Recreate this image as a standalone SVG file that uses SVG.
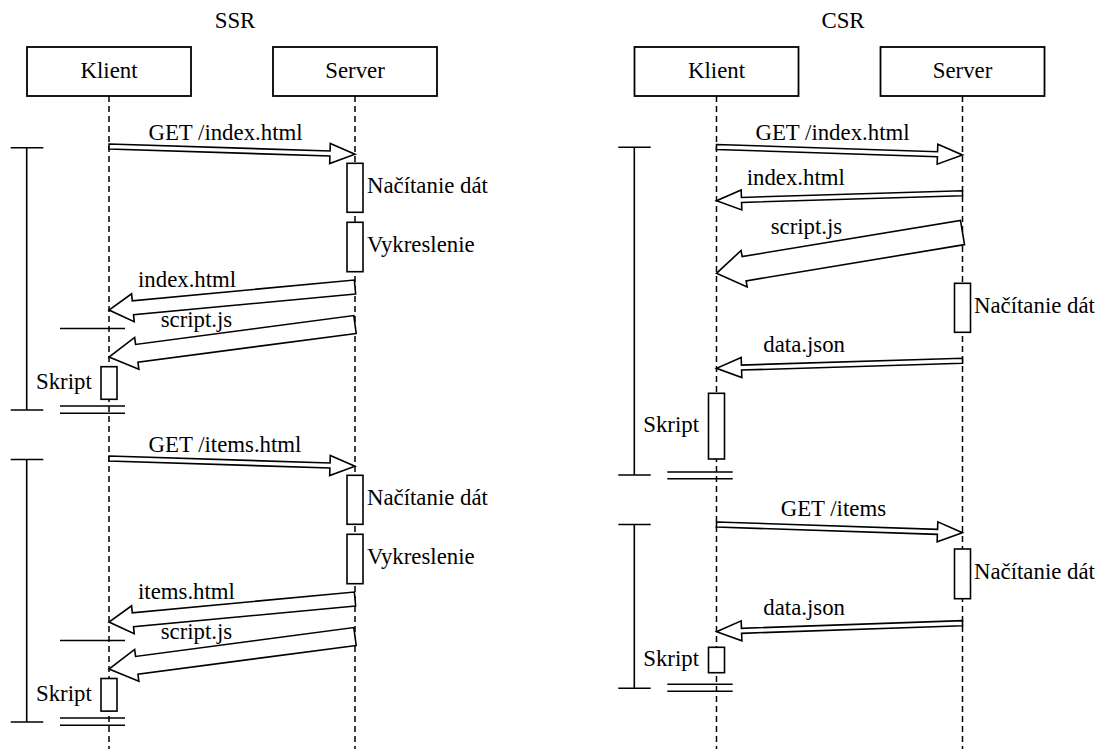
<svg xmlns="http://www.w3.org/2000/svg" xmlns:xlink="http://www.w3.org/1999/xlink" width="1105" height="749" viewBox="0 0 1105 749" font-family="'Liberation Serif', 'Times New Roman', Times, serif" font-size="22.8">
<style>
  text { font-family: 'Liberation Serif', 'Times New Roman', Times, serif; font-size: 22.8px; fill: #000; }
  .mid { text-anchor: middle; }
  .box { fill: #fff; stroke: #000; stroke-width: 1.8; }
  .life { stroke: #000; stroke-width: 1.5; stroke-dasharray: 6 4; fill: none; }
  .act { fill: #fff; stroke: #000; stroke-width: 1.6; }
  .arr { fill: #fff; stroke: #000; stroke-width: 1.6; stroke-linejoin: miter; }
  .ln { stroke: #000; stroke-width: 1.6; fill: none; }
</style>
<defs>
  <polygon id="thin" class="arr" points="0,-2.5 221.1,-2.5 221.1,-10 246.1,0 221.1,10 221.1,2.5 0,2.5"/>
  <polygon id="bigA" class="arr" points="0,-7 223.07,-7 223.07,-14 247.07,0 223.07,14 223.07,7 0,7"/>
  <polygon id="bigB" class="arr" points="0,-9 220.14,-9 220.14,-16 248.14,0 220.14,16 220.14,9 0,9"/>
  <polygon id="bigC" class="arr" points="0,-12.3 221.36,-12.3 221.36,-18.5 249.36,0 221.36,18.5 221.36,12.3 0,12.3"/>
</defs>
<rect width="1105" height="749" fill="#fff"/>

<!-- titles -->
<text class="mid" x="235" y="28">SSR</text>
<text class="mid" x="843" y="28">CSR</text>

<!-- lifelines -->
<g id="lifelines">
  <line class="life" x1="109" y1="96" x2="109" y2="749"/>
  <line class="life" x1="355" y1="96" x2="355" y2="749"/>
  <line class="life" x1="716.5" y1="96" x2="716.5" y2="749"/>
  <line class="life" x1="962.5" y1="96" x2="962.5" y2="749"/>
</g>

<!-- participants -->
<g id="ssr-klient"><rect class="box" x="27" y="47" width="164" height="49"/><text class="mid" x="109" y="77.5">Klient</text></g>
<g id="ssr-server"><rect class="box" x="273" y="47" width="164" height="49"/><text class="mid" x="355" y="77.5">Server</text></g>
<g id="csr-klient"><rect class="box" x="634.5" y="47" width="164" height="49"/><text class="mid" x="716.5" y="77.5">Klient</text></g>
<g id="csr-server"><rect class="box" x="880.5" y="47" width="164" height="49"/><text class="mid" x="962.5" y="77.5">Server</text></g>

<!-- brackets and separators -->
<g id="frames">
  <path class="ln" d="M10.7,147.7 H43.3 M26.7,147.7 V410 M10.7,410 H43.3"/>
  <path class="ln" d="M10.7,459.5 H43.3 M26.7,459.5 V722 M10.7,722 H43.3"/>
  <path class="ln" d="M618.3,147.3 H650.7 M634.3,147.3 V475 M618.3,475 H650.7"/>
  <path class="ln" d="M618.3,524.5 H650.7 M634.3,524.5 V688.3 M618.3,688.3 H650.7"/>
  <path class="ln" d="M60,328.5 H125 M60,640.5 H125"/>
  <path class="ln" d="M60,406 H125 M60,413.3 H125"/>
  <path class="ln" d="M60,718 H125 M60,725.3 H125"/>
  <path class="ln" d="M667.3,472 H732.7 M667.3,478.7 H732.7"/>
  <path class="ln" d="M667.3,684.3 H732.7 M667.3,691.3 H732.7"/>
</g>

<!-- activations -->
<g id="ssr-load1"><rect class="act" x="347" y="163.3" width="16" height="49"/><text x="367" y="193">Načítanie dát</text></g>
<g id="ssr-render1"><rect class="act" x="347" y="222.3" width="16" height="49.4"/><text x="367" y="252">Vykreslenie</text></g>
<g id="ssr-script1"><rect class="act" x="101" y="366.7" width="16" height="32.6"/><text x="36" y="389">Skript</text></g>
<g id="ssr-load2"><rect class="act" x="347" y="475.3" width="16" height="49"/><text x="367" y="505">Načítanie dát</text></g>
<g id="ssr-render2"><rect class="act" x="347" y="534.3" width="16" height="49.4"/><text x="367" y="564">Vykreslenie</text></g>
<g id="ssr-script2"><rect class="act" x="101" y="678.5" width="16" height="32.6"/><text x="36" y="701">Skript</text></g>
<g id="csr-load1"><rect class="act" x="954.5" y="283.3" width="16" height="49"/><text x="974" y="313">Načítanie dát</text></g>
<g id="csr-script1"><rect class="act" x="708.5" y="393.3" width="16" height="65.7"/><text x="643.3" y="432">Skript</text></g>
<g id="csr-load2"><rect class="act" x="954.5" y="549" width="16" height="49.7"/><text x="974" y="579">Načítanie dát</text></g>
<g id="csr-script2"><rect class="act" x="708.5" y="647.3" width="16" height="25.4"/><text x="643.3" y="666">Skript</text></g>

<!-- connectors -->
<g id="connectors">
  <use xlink:href="#thin" href="#thin" transform="translate(109,146.5) rotate(1.816)"/>
  <text class="mid" x="225.5" y="140">GET /index.html</text>
  <use xlink:href="#bigA" href="#bigA" transform="translate(355,287) rotate(174.66)"/>
  <text x="138" y="286.5">index.html</text>
  <use xlink:href="#bigB" href="#bigB" transform="translate(355,324.5) rotate(172.47)"/>
  <text x="160.7" y="327">script.js</text>

  <use xlink:href="#thin" href="#thin" transform="translate(109,458.5) rotate(1.816)"/>
  <text class="mid" x="225" y="452">GET /items.html</text>
  <use xlink:href="#bigA" href="#bigA" transform="translate(355,599) rotate(174.66)"/>
  <text x="138" y="598.5">items.html</text>
  <use xlink:href="#bigB" href="#bigB" transform="translate(355,636.5) rotate(172.47)"/>
  <text x="160.7" y="639">script.js</text>

  <use xlink:href="#thin" href="#thin" transform="translate(716.5,147) rotate(1.86)"/>
  <text class="mid" x="832.5" y="140">GET /index.html</text>
  <use xlink:href="#thin" href="#thin" transform="translate(962.5,193.3) rotate(178.28)"/>
  <text x="746.7" y="185">index.html</text>
  <use xlink:href="#bigC" href="#bigC" transform="translate(962.5,232.5) rotate(170.58)"/>
  <text x="770.7" y="234">script.js</text>
  <use xlink:href="#thin" href="#thin" transform="translate(962.5,360.8) rotate(178.25)"/>
  <text x="763.3" y="352.3">data.json</text>

  <use xlink:href="#thin" href="#thin" transform="translate(716.5,524.5) rotate(1.9)"/>
  <text x="780.7" y="516">GET /items</text>
  <use xlink:href="#thin" href="#thin" transform="translate(962.5,623.2) rotate(178.02)"/>
  <text x="763.3" y="615">data.json</text>
</g>
</svg>
